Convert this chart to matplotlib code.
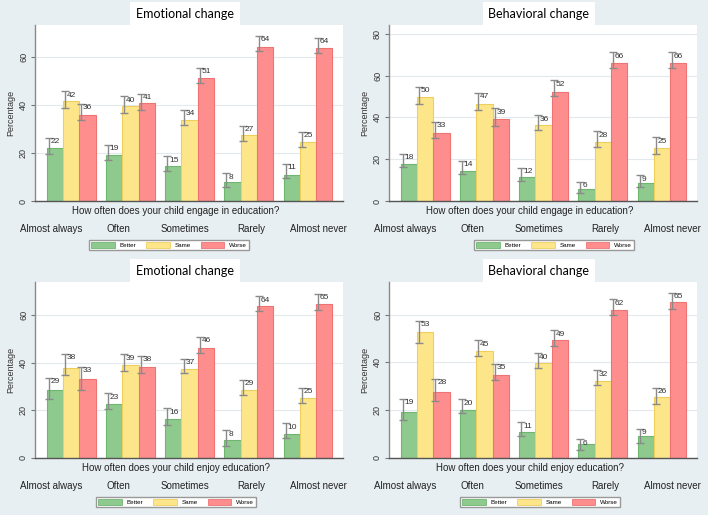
import numpy as np
import matplotlib
matplotlib.use('Agg')
import matplotlib.pyplot as plt
from matplotlib.patches import Patch

W, H = 708, 515

categories = ['Almost always', 'Often', 'Sometimes', 'Rarely', 'Almost never']
groups = ['Better', 'Same', 'Worse']

# emotional change, engage in education
emo_eng = [[22.1, 19.4, 14.8, 7.9, 11.0],
           [41.8, 39.8, 33.8, 27.4, 24.8],
           [35.9, 40.8, 51.3, 64.3, 63.9]]
emo_eng_lo = [[19.8, 17.0, 12.4, 5.7, 9.5],
              [39.0, 36.8, 31.6, 25.1, 22.6],
              [33.7, 38.0, 49.2, 62.5, 61.8]]
emo_eng_hi = [[26.5, 23.5, 18.8, 11.7, 15.6],
              [45.8, 43.9, 38.2, 31.5, 29.0],
              [40.7, 44.8, 55.7, 69.1, 68.2]]

# behavioral change, engage in education
beh_eng = [[17.7, 14.4, 11.6, 5.8, 8.6],
           [49.8, 46.6, 36.4, 28.3, 25.4],
           [32.6, 39.3, 52.2, 66.1, 66.1]]
beh_eng_lo = [[16.1, 12.8, 9.4, 4.0, 6.5],
              [46.3, 43.5, 34.0, 25.9, 22.7],
              [30.0, 35.9, 50.5, 63.6, 63.6]]
beh_eng_hi = [[22.7, 19.3, 16.0, 9.3, 12.3],
              [54.8, 51.8, 41.2, 33.5, 30.5],
              [38.0, 44.4, 57.8, 71.2, 71.2]]

# emotional change, enjoy education
emo_enj = [[28.6, 22.6, 16.4, 7.7, 10.2],
           [37.8, 39.1, 37.4, 28.6, 25.1],
           [33.2, 38.1, 46.2, 63.7, 64.6]]
emo_enj_lo = [[24.7, 20.5, 13.8, 5.0, 8.4],
              [34.7, 36.4, 35.6, 26.5, 23.0],
              [28.7, 35.7, 44.2, 61.6, 62.3]]
emo_enj_hi = [[33.8, 27.3, 20.8, 11.7, 14.5],
              [43.8, 43.5, 41.7, 32.9, 29.6],
              [38.4, 43.0, 50.9, 68.1, 69.0]]

# behavioral change, enjoy education
beh_enj = [[19.2, 19.9, 10.7, 5.7, 9.2],
           [52.9, 44.6, 39.6, 32.1, 25.6],
           [27.8, 34.9, 49.4, 62.1, 65.1]]
beh_enj_lo = [[15.8, 18.7, 9.3, 3.3, 6.4],
              [48.3, 42.7, 37.5, 30.4, 22.6],
              [24.0, 32.6, 47.0, 60.0, 62.5]]
beh_enj_hi = [[24.8, 24.5, 15.1, 8.0, 12.3],
              [57.5, 49.4, 43.9, 36.8, 29.4],
              [33.2, 39.5, 53.6, 66.5, 69.2]]

colors = ['#8ec98e', '#fde68a', '#fe8e8e']
edges = ['#6fb66f', '#efcf5c', '#ee7474']
bg = '#e8eff2'

plt.rcParams['font.family'] = ['Liberation Sans', 'DejaVu Sans']

fig = plt.figure(figsize=(W / 100, H / 100), dpi=100)
fig.patch.set_facecolor(bg)


def fx(x):
    return x / W


def fy(y):
    return 1 - y / H


def panel(x0, y0, title, xtitle, vals, lo, hi, ymax, yticks, legx):
    # plot area 308 x 176 px, top-left corner at (x0+35, y0+25)
    ax = fig.add_axes([fx(x0 + 35), fy(y0 + 201), 308 / W, 176 / H])
    ax.set_facecolor('white')
    x = np.arange(len(categories))
    w = 0.275
    for k in range(3):
        xs = x + (k - 1) * w
        ax.bar(xs, vals[k], w, color=colors[k], edgecolor=edges[k], lw=0.8, zorder=2)
        ex = xs - w / 2 + 0.035
        v = np.array(vals[k])
        err = [v - np.array(lo[k]), np.array(hi[k]) - v]
        ax.errorbar(ex, v, yerr=err, fmt='none', ecolor='#8a8a8a', elinewidth=1.0,
                    capsize=3, capthick=1.0, zorder=3)
        for xi, vi, hi_ in zip(ex, v, hi[k]):
            ax.text(xi + 0.03, hi_ - 0.3, '%.0f' % vi, fontsize=6, color='#333333',
                    ha='left', va='top', zorder=4)
    ax.set_xlim(-0.61, 4.59)
    ax.set_ylim(0, ymax)
    ax.set_yticks(yticks)
    ax.set_yticklabels([str(t) for t in yticks], rotation=90, va='center', fontsize=6.5,
                       color='#333333')
    ax.set_xticks([])
    ax.yaxis.grid(True, color='#e2eaee', lw=0.8, zorder=0)
    ax.set_axisbelow(True)
    ax.tick_params(axis='y', length=3, width=0.8, color='#777777', pad=2)
    for s in ['top', 'right']:
        ax.spines[s].set_visible(False)
    ax.spines['left'].set_color('#8a8a8a')
    ax.spines['left'].set_linewidth(1.0)
    ax.spines['bottom'].set_color('#555555')
    ax.spines['bottom'].set_linewidth(1.0)
    ax.set_ylabel('Percentage', fontsize=6.5, color='#333333', labelpad=3)

    # title box
    fig.text(fx(x0 + 185), fy(y0 + 14), title, fontsize=9, family=['Lato', 'DejaVu Sans'],
             ha='center', va='center', color='black',
             bbox=dict(boxstyle='square,pad=0.45', facecolor='white', edgecolor='none'))
    fig.text(fx(x0 + 176), fy(y0 + 211), xtitle, fontsize=7, ha='center', va='center',
             color='#222222')
    cat_x = [51, 118, 185, 251, 318]
    for cx, c in zip(cat_x, categories):
        fig.text(fx(x0 + cx), fy(y0 + 229), c, fontsize=7, ha='center', va='center',
                 color='#222222')
    handles = [Patch(facecolor=colors[k], edgecolor=edges[k], lw=0.6) for k in range(3)]
    fig.legend(handles, groups, loc='center', bbox_to_anchor=(fx(x0 + legx), fy(y0 + 245)),
               ncol=3, fontsize=4.5, frameon=True, fancybox=False, edgecolor='#999999',
               handlelength=3.8, handleheight=1.0, handletextpad=0.7, columnspacing=1.6,
               borderpad=0.35, framealpha=1)
    return ax


panel(0, 0, 'Emotional change', 'How often does your child engage in education?',
      emo_eng, emo_eng_lo, emo_eng_hi, 73.5, [0, 20, 40, 60], 169)
panel(354, 0, 'Behavioral change', 'How often does your child engage in education?',
      beh_eng, beh_eng_lo, beh_eng_hi, 84.3, [0, 20, 40, 60, 80], 200)
panel(0, 257, 'Emotional change', 'How often does your child enjoy education?',
      emo_enj, emo_enj_lo, emo_enj_hi, 73.9, [0, 20, 40, 60], 176)
panel(354, 257, 'Behavioral change', 'How often does your child enjoy education?',
      beh_enj, beh_enj_lo, beh_enj_hi, 73.6, [0, 20, 40, 60], 186)

fig.savefig('out.png', dpi=100, facecolor=bg)
